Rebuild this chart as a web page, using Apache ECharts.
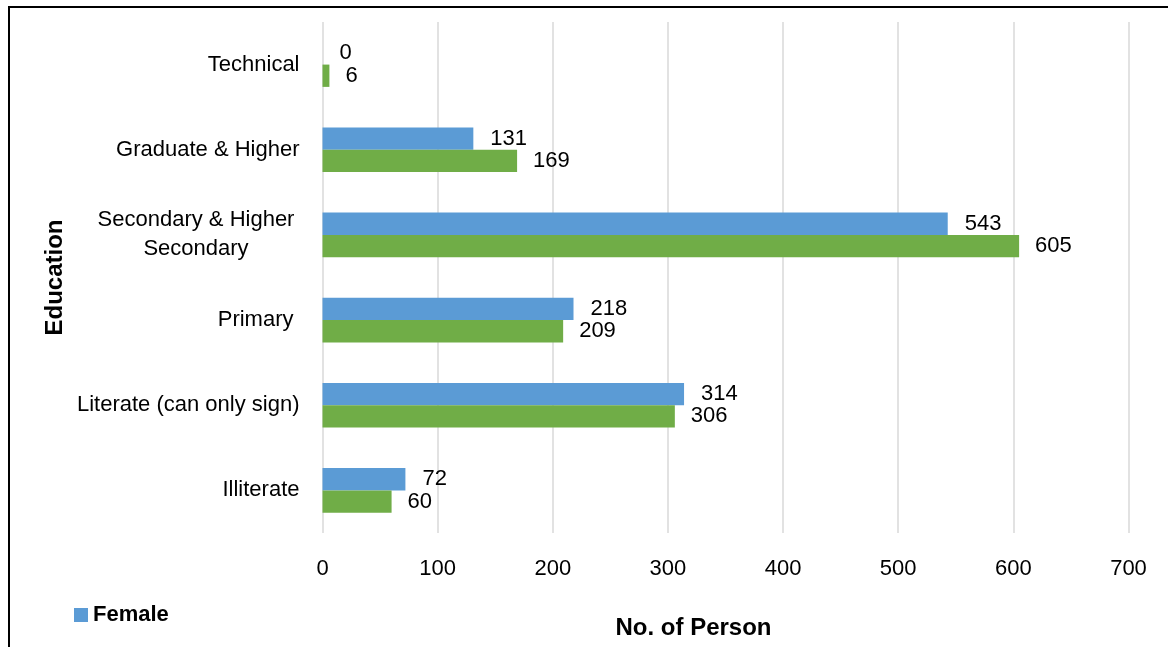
<!DOCTYPE html>
<html>
<head>
<meta charset="utf-8">
<script src="https://cdn.jsdelivr.net/npm/echarts@6/dist/echarts.min.js"></script>
<style>
html,body{margin:0;padding:0;background:#fff;}
#chart{width:1168px;height:647px;}
</style>
</head>
<body>
<div id="chart"></div>
<script>
const categories = ['Illiterate', 'Literate (can only sign)', 'Primary', 'Secondary & Higher Secondary', 'Graduate & Higher', 'Technical'];
const femaleValues = [72, 314, 218, 543, 131, 0];
const maleValues = [60, 306, 209, 605, 169, 6];
const xTicks = [0, 100, 200, 300, 400, 500, 600, 700];

const FONT = "'Liberation Sans', Arial, sans-serif";
const chart = echarts.init(document.getElementById('chart'));
chart.setOption({
  backgroundColor: '#fff',
  animation: false,
  textStyle: { fontFamily: FONT },
  graphic: [{
    type: 'polyline', z: 100,
    shape: { points: [[9, 647], [9, 7], [1168, 7]] },
    style: { stroke: '#000', lineWidth: 2, fill: null }
  }],
  legend: {
    data: ['Female'],
    left: 74, top: 604, padding: 0,
    itemWidth: 14, itemHeight: 14, itemGap: 6,
    icon: 'rect',
    textStyle: { fontFamily: FONT, fontWeight: 'bold', fontSize: 22, color: '#000' }
  },
  grid: { left: 322.5, right: 39.5, top: 22, bottom: 114, containLabel: false, outerBoundsMode: 'none' },
  xAxis: {
    type: 'value', min: xTicks[0], max: xTicks[xTicks.length - 1], interval: 100,
    name: 'No. of Person', nameLocation: 'middle', nameGap: 83, nameMoveOverlap: false,
    nameTextStyle: { fontFamily: FONT, fontWeight: 'bold', fontSize: 24, color: '#000', padding: [0, 64, 0, 0] },
    axisLine: { show: false }, axisTick: { show: false },
    axisLabel: { fontFamily: FONT, fontSize: 22, color: '#000', margin: 25 },
    splitLine: { show: true, lineStyle: { color: '#D9D9D9', width: 1.5 } }
  },
  yAxis: {
    type: 'category', data: categories,
    name: 'Education', nameLocation: 'middle', nameGap: 255, nameRotate: 90, nameMoveOverlap: false,
    nameTextStyle: { fontFamily: FONT, fontWeight: 'bold', fontSize: 24, color: '#000' },
    axisLine: { show: false }, axisTick: { show: false },
    axisLabel: {
      fontFamily: FONT, fontSize: 22, color: '#000', margin: 23,
      formatter: function (v) {
        if (v === 'Secondary & Higher Secondary') return '{c|Secondary & Higher}\n{c|Secondary}';
        if (v === 'Primary') return '{p|Primary}';
        return v;
      },
      rich: {
        c: { width: 207, align: 'center', fontFamily: FONT, fontSize: 22, color: '#000', lineHeight: 29 },
        p: { padding: [0, 6, 0, 0], fontFamily: FONT, fontSize: 22, color: '#000' }
      }
    }
  },
  series: [
    {
      name: 'Female', type: 'bar', data: femaleValues, barWidth: 22.3, barGap: '0%',
      itemStyle: { color: '#5B9BD5' },
      label: { show: true, position: 'right', distance: 17, fontFamily: FONT, fontSize: 22, color: '#000' }
    },
    {
      name: 'Male', type: 'bar', data: maleValues, barWidth: 22.3, barGap: '0%',
      itemStyle: { color: '#70AD47' },
      label: { show: true, position: 'right', distance: 16, fontFamily: FONT, fontSize: 22, color: '#000' }
    }
  ]
});
</script>
</body>
</html>
